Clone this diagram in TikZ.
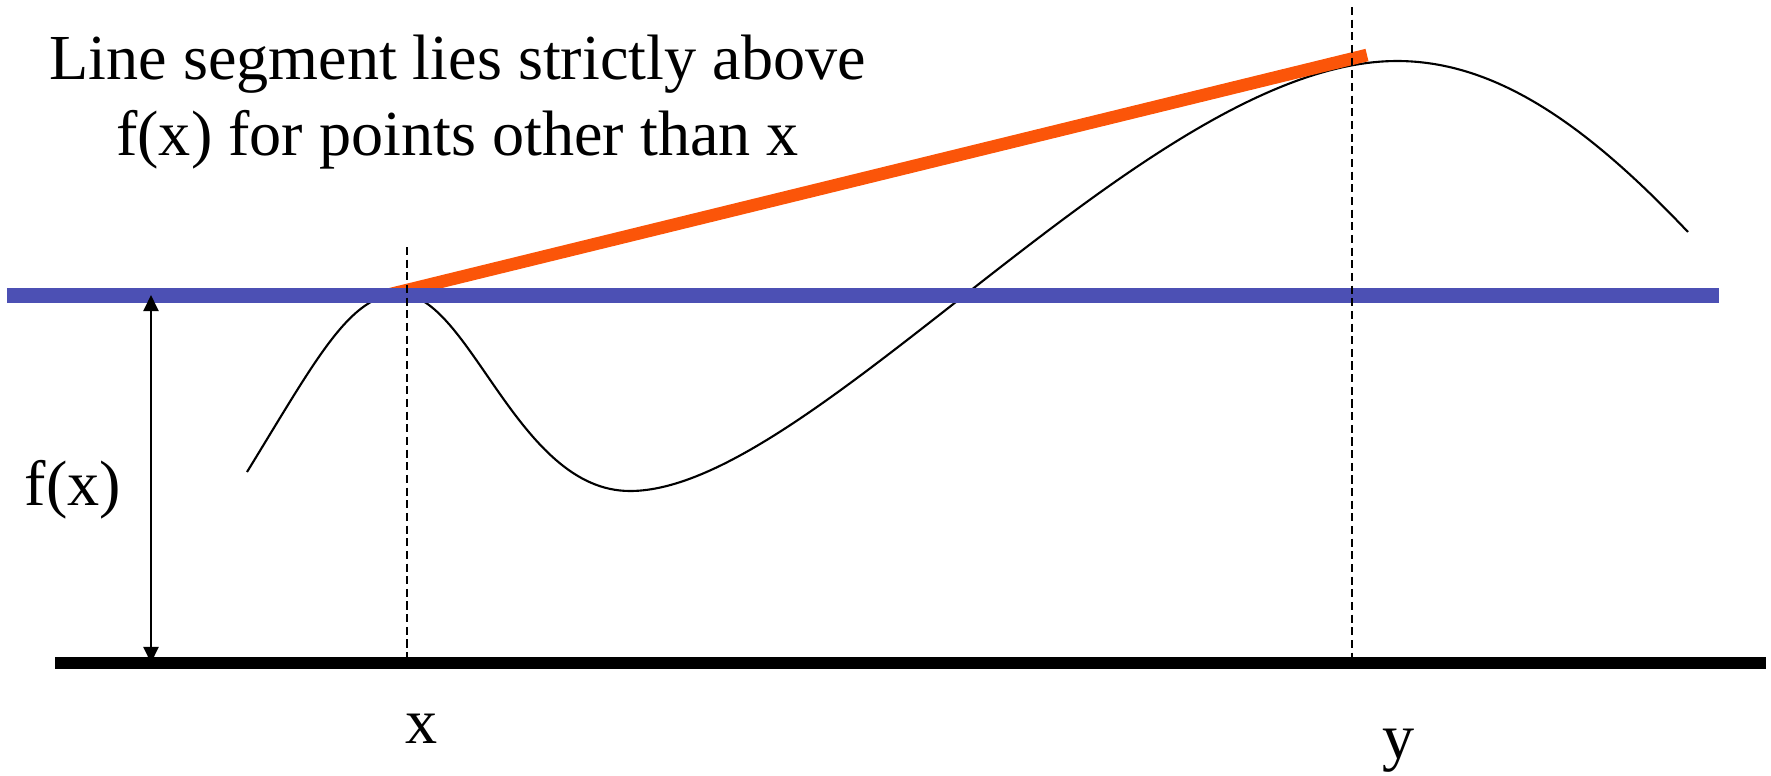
\documentclass[tikz,border=0pt]{standalone}
\usepackage{fontspec}
\setmainfont{Liberation Serif}
\usetikzlibrary{arrows.meta}
\definecolor{hblue}{RGB}{76,80,180}
\definecolor{segorange}{RGB}{251,85,9}
\begin{document}
\begin{tikzpicture}[x=0.01cm,y=-0.01cm,
  lbl/.style={inner sep=0pt,font=\fontsize{18.25pt}{22pt}\selectfont},
  curve/.style={black,line width=0.6pt},
  guide/.style={black,line width=0.6pt,dash pattern=on 2.3pt off 1.3pt},
  hline/.style={hblue,line width=4.4pt},
  baseline/.style={black,line width=3.4pt},
  chord/.style={segorange,line width=3.6pt},
  measure/.style={black,line width=0.6pt,{Triangle[length=4.6pt,width=4.3pt]}-{Triangle[length=4.6pt,width=4.3pt]}}]
\useasboundingbox (0,0) rectangle (1771,775);
% coordinates
\coordinate (bl) at (7,295.5);
\coordinate (br) at (1719,295.5);
\coordinate (kl) at (55,663);
\coordinate (kr) at (1766,663);
\coordinate (os) at (385,295.5);
\coordinate (oe) at (1367,55);
\coordinate (dxt) at (407,247);
\coordinate (dxb) at (407,657);
\coordinate (dyt) at (1352,7);
\coordinate (dyb) at (1352,657);
\coordinate (at) at (151,295);
\coordinate (ab) at (151,663);
% curve
\draw[curve] (247,472) .. controls (317,358) and (350,294) .. (400,294)
  .. controls (470,294) and (517,491) .. (630,491)
  .. controls (813,491) and (1149,61) .. (1397,61)
  .. controls (1497,61) and (1588,126.4) .. (1688,232);
% chord and lines
\draw[chord] (os) -- (oe);
\draw[hline] (bl) -- (br);
\draw[baseline] (kl) -- (kr);
\draw[guide] (dxt) -- (dxb);
\draw[guide] (dyt) -- (dyb);
\draw[measure] (ab) -- (at);
% labels
\node[lbl,anchor=base] (t1) at (457.5,79) {Line segment lies strictly above};
\node[lbl,anchor=base] (t2) at (457.5,155) {f(x) for points other than x};
\node[lbl,anchor=base west] (fx) at (24,505) {f(x)};
\node[lbl,anchor=base] (xl) at (422,743) {x};
\node[lbl,anchor=base] (yl) at (1399,758) {y};
\end{tikzpicture}
\end{document}
